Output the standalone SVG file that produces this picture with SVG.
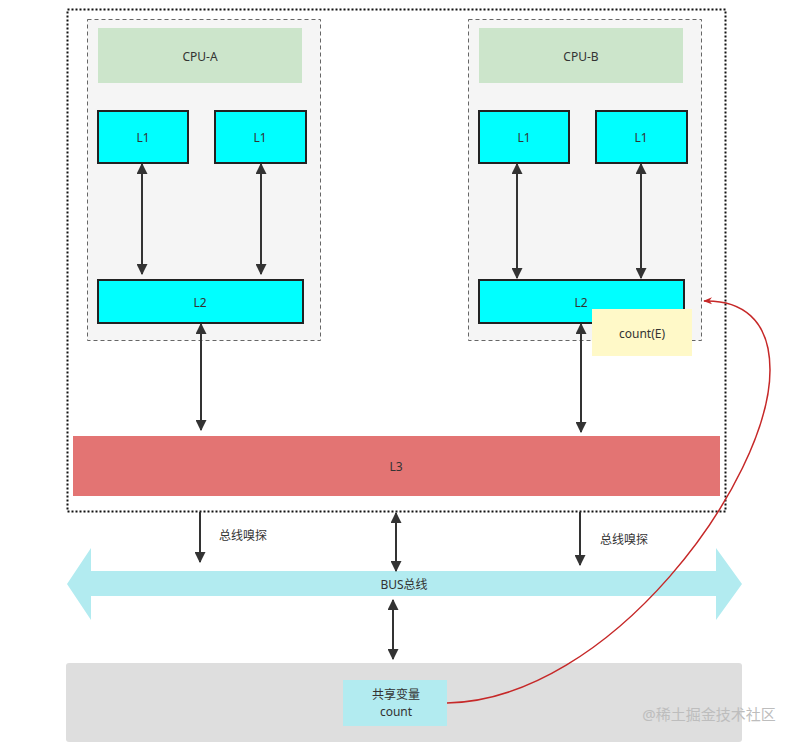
<svg xmlns="http://www.w3.org/2000/svg" width="804" height="744" viewBox="0 0 804 744">
<defs>
<style>
text{font-family:"Noto Sans","Noto Sans CJK SC",sans-serif;font-size:12px;fill:#333;text-anchor:middle;dominant-baseline:central}
.cpu{fill:#f5f5f5;stroke:#666;stroke-dasharray:4 3}
.hdr{fill:#cce5cb}
.cache{fill:#00ffff;stroke:#222;stroke-width:2}
.con{stroke:#333;stroke-width:2;fill:none}
</style>
<marker id="ah" viewBox="0 0 10 10" refX="9" refY="5" markerWidth="5.5" markerHeight="5.5" orient="auto-start-reverse"><path d="M0,0 L10,5 L0,10 z" fill="#333"/></marker>
<marker id="rh" viewBox="0 0 10 10" refX="9" refY="5" markerWidth="6" markerHeight="6" orient="auto"><path d="M0,1 L10,5 L0,9 L3,5 z" fill="#c62828"/></marker>
</defs>
<rect width="804" height="744" fill="#fff"/>
<rect id="outer" x="67.5" y="9.5" width="658" height="502" fill="none" stroke="#111" stroke-width="2" stroke-dasharray="2 2"/>
<g id="cpuA">
<rect class="cpu" x="87.5" y="19.5" width="233" height="321"/>
<rect class="hdr" x="98" y="28" width="204" height="55"/>
<text x="200" y="56">CPU-A</text>
</g>
<g id="a-l1a"><rect class="cache" x="98" y="111" width="90" height="52"/><text x="143" y="137">L1</text></g>
<g id="a-l1b"><rect class="cache" x="215" y="111" width="91" height="52"/><text x="260" y="137">L1</text></g>
<g id="a-l2"><rect class="cache" x="98" y="280" width="205" height="43"/><text x="200" y="302">L2</text></g>
<g id="cpuB">
<rect class="cpu" x="468.5" y="19.5" width="233" height="321"/>
<rect class="hdr" x="479" y="28" width="204" height="55"/>
<text x="581" y="56">CPU-B</text>
</g>
<g id="b-l1a"><rect class="cache" x="479" y="111" width="90" height="52"/><text x="524" y="137">L1</text></g>
<g id="b-l1b"><rect class="cache" x="596" y="111" width="91" height="52"/><text x="641" y="137">L1</text></g>
<g id="b-l2"><rect class="cache" x="479" y="280" width="205" height="43"/><text x="581" y="302">L2</text></g>
<g id="countE"><rect x="592" y="309" width="100" height="47" fill="#fff9c8"/><text x="642" y="333">count(E)</text></g>
<g id="l3"><rect x="73" y="436" width="647" height="60" fill="#e37473"/><text x="396" y="466">L3</text></g>
<g id="bus">
<path d="M67,584 L91,548 L91,571 L716,571 L716,548 L742,584 L716,620 L716,596 L91,596 L91,620 Z" fill="#b2ebf0"/>
<text x="404" y="584">BUS总线</text>
</g>
<g id="memory">
<rect x="66" y="663" width="676" height="79" rx="3" fill="#dedede"/>
</g>
<g id="shared"><rect x="343" y="680" width="104" height="46" fill="#b2ebf0"/><text x="396" y="694">共享变量</text><text x="396" y="711">count</text></g>
<g id="connectors">
<line class="con" x1="142" y1="164" x2="142" y2="274" marker-start="url(#ah)" marker-end="url(#ah)"/>
<line class="con" x1="261" y1="164" x2="261" y2="274" marker-start="url(#ah)" marker-end="url(#ah)"/>
<line class="con" x1="517" y1="164" x2="517" y2="278" marker-start="url(#ah)" marker-end="url(#ah)"/>
<line class="con" x1="641" y1="164" x2="641" y2="278" marker-start="url(#ah)" marker-end="url(#ah)"/>
<line class="con" x1="201" y1="324" x2="201" y2="430" marker-start="url(#ah)" marker-end="url(#ah)"/>
<line class="con" x1="581" y1="324" x2="581" y2="432" marker-start="url(#ah)" marker-end="url(#ah)"/>
<line class="con" x1="200" y1="512" x2="200" y2="562" marker-end="url(#ah)"/>
<line class="con" x1="580" y1="512" x2="580" y2="565" marker-end="url(#ah)"/>
<line class="con" x1="396" y1="513" x2="396" y2="571" marker-start="url(#ah)" marker-end="url(#ah)"/>
<line class="con" x1="393" y1="600" x2="393" y2="659" marker-start="url(#ah)" marker-end="url(#ah)"/>
<path d="M447,703 C610,700 770,480 770,370 C770,318 740,300 704,301" fill="none" stroke="#c62828" stroke-width="1.5" marker-end="url(#rh)"/>
<text x="243" y="535">总线嗅探</text>
<text x="624" y="539">总线嗅探</text>
</g>
<text x="709" y="714" style="font-size:15px;fill:#bdbdbd">@稀土掘金技术社区</text>
</svg>
